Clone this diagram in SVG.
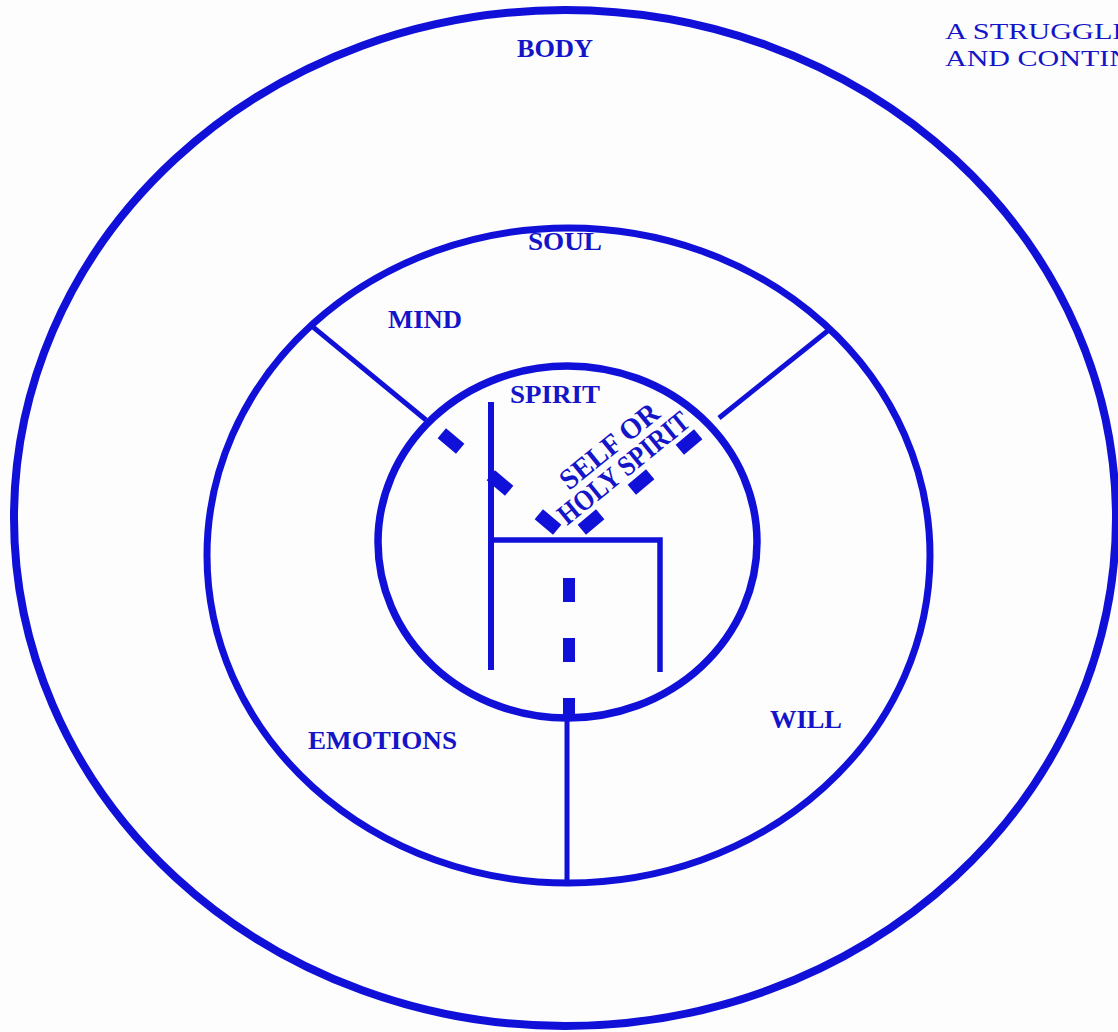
<svg xmlns="http://www.w3.org/2000/svg" width="1118" height="1032" viewBox="0 0 1118 1032">
<style>
.ln{fill:none;stroke:#1010d8;}
.lbl{font-family:"Liberation Serif","Times New Roman",serif;font-weight:bold;font-size:26px;fill:#1414c8;}
.cap{font-family:"Liberation Serif","Times New Roman",serif;font-size:24px;fill:#1414c8;}
.dash{fill:#1010d8;}
</style>
<rect width="1118" height="1032" fill="#fdfdfe"/>
<g id="body">
<ellipse class="ln" cx="565" cy="518" rx="551" ry="508" stroke-width="8"/>
<text class="lbl" x="517" y="57" textLength="76" lengthAdjust="spacingAndGlyphs">BODY</text>
</g>
<g id="soul">
<ellipse class="ln" cx="568.5" cy="555.5" rx="361.5" ry="327.5" stroke-width="7"/>
<text class="lbl" x="528" y="250" textLength="74" lengthAdjust="spacingAndGlyphs">SOUL</text>
</g>
<g id="mind">
<text class="lbl" x="388" y="328" textLength="74" lengthAdjust="spacingAndGlyphs">MIND</text>
</g>
<g id="emotions">
<text class="lbl" x="308" y="749" textLength="149" lengthAdjust="spacingAndGlyphs">EMOTIONS</text>
</g>
<g id="will">
<text class="lbl" x="770" y="728" textLength="72" lengthAdjust="spacingAndGlyphs">WILL</text>
</g>
<g id="spirit">
<ellipse class="ln" cx="567.5" cy="542" rx="189.5" ry="176" stroke-width="7.5"/>
<text class="lbl" x="510" y="403" textLength="90" lengthAdjust="spacingAndGlyphs">SPIRIT</text>
</g>
<g id="connectors">
<line class="ln" x1="310.7" y1="325.1" x2="426" y2="420" stroke-width="5"/>
<line class="ln" x1="830" y1="329" x2="719" y2="418" stroke-width="5"/>
<line class="ln" x1="567" y1="718" x2="567" y2="883" stroke-width="5"/>
</g>
<g id="figure">
<polyline class="ln" points="491,402 491,670" stroke-width="6"/>
<polyline class="ln" points="491,540 660,540 660,672" stroke-width="5.5"/>
<rect class="dash" x="563" y="578" width="12" height="24"/>
<rect class="dash" x="563" y="638" width="12" height="24"/>
<rect class="dash" x="563" y="698" width="12" height="22"/>
<rect class="dash" x="-12" y="-6.5" width="24" height="13" transform="translate(451,441) rotate(40)"/>
<rect class="dash" x="-12" y="-6.5" width="24" height="13" transform="translate(500,483) rotate(40)"/>
<rect class="dash" x="-12" y="-6.5" width="24" height="13" transform="translate(548,522) rotate(40)"/>
<rect class="dash" x="-12" y="-6.5" width="24" height="13" transform="translate(689,442) rotate(-40)"/>
<rect class="dash" x="-12" y="-6.5" width="24" height="13" transform="translate(641,482) rotate(-40)"/>
<rect class="dash" x="-12" y="-6.5" width="24" height="13" transform="translate(591,522) rotate(-40)"/>
</g>
<g id="self-label">
<text class="lbl" style="font-size:29px" transform="translate(569,491) rotate(-39)" textLength="119" lengthAdjust="spacingAndGlyphs">SELF OR</text>
<text class="lbl" style="font-size:29px" transform="translate(567,526) rotate(-39)" textLength="161" lengthAdjust="spacingAndGlyphs">HOLY SPIRIT</text>
</g>
<g id="caption">
<text class="cap" x="945" y="39" textLength="186" lengthAdjust="spacingAndGlyphs">A STRUGGLE</text>
<text class="cap" x="945" y="66" textLength="186" lengthAdjust="spacingAndGlyphs">AND CONTIN</text>
</g>
</svg>
